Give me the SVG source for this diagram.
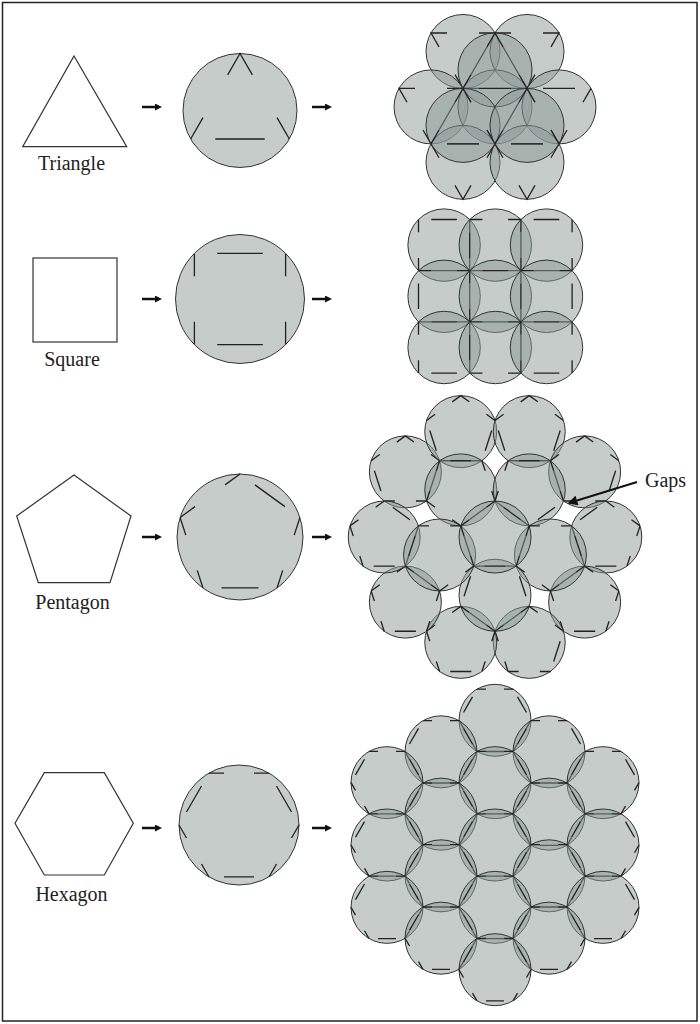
<svg xmlns="http://www.w3.org/2000/svg" xmlns:xlink="http://www.w3.org/1999/xlink" width="700" height="1024" viewBox="0 0 700 1024">
<style>
.c{fill:#8b9996;fill-opacity:.5;stroke:#333;stroke-width:1}
.t{fill:none;stroke:#222;stroke-width:1.3;stroke-dasharray:1 2 1 1 2 1}
.o{fill:#fff;stroke:#333;stroke-width:1.2}
.lb{font-family:"Liberation Serif",serif;font-size:20px;fill:#222}
.ar{stroke:#111;stroke-width:2.5;fill:none}
</style>
<defs>
<marker id="ah" markerUnits="userSpaceOnUse" markerWidth="7" markerHeight="7" viewBox="0 0 10 10" refX="0" refY="5" orient="auto"><path d="M0,0 L10,5 L0,10 Z" fill="#111"/></marker>
<marker id="ah2" markerUnits="userSpaceOnUse" markerWidth="13" markerHeight="10" viewBox="0 0 10 10" refX="0" refY="5" orient="auto"><path d="M0,0 L10,5 L0,10 Z" fill="#111"/></marker>
<path id="tri" class="t" pathLength="12" d="M0,-36.95 L32,18.48 L-32,18.48 Z"/>
<path id="sq" class="t" pathLength="16" d="M25.6,-25.6 L25.6,25.6 L-25.6,25.6 L-25.6,-25.6 Z"/>
<path id="pent" class="t" pathLength="20" d="M-34.24,-11.12 L0,-36 L34.24,-11.12 L21.16,29.12 L-21.16,29.12 Z"/>
<path id="hex" class="t" pathLength="24" d="M-18,-31.18 L18,-31.18 L36,0 L18,31.18 L-18,31.18 L-36,0 Z"/>
</defs>
<rect x="2.5" y="2.5" width="694.5" height="1018.5" fill="#fff" stroke="#222" stroke-width="1.5"/>

<!-- Row 1: triangle -->
<g id="triangle-shape">
<path class="o" d="M74,56 L126.7,146.7 L22.7,146.7 Z"/>
<text class="lb" x="71.5" y="170" text-anchor="middle">Triangle</text>
</g>
<g id="triangle-circle">
<circle class="c" cx="240" cy="110.5" r="57"/>
<path class="t" pathLength="12" d="M240,53.5 L289.36,139 L190.64,139 Z"/>
</g>
<g id="triangle-cluster">
<g id="tc-d1"><circle class="c" cx="463" cy="51.48" r="37"/><use xlink:href="#tri" transform="translate(463,51.48) rotate(-60)"/></g>
<g id="tc-d2"><circle class="c" cx="527" cy="51.48" r="37"/><use xlink:href="#tri" transform="translate(527,51.48) rotate(60)"/></g>
<g id="tc-d3"><circle class="c" cx="431" cy="106.91" r="37"/><use xlink:href="#tri" transform="translate(431,106.91) rotate(-60)"/></g>
<g id="tc-d4"><circle class="c" cx="495" cy="106.91" r="37"/><use xlink:href="#tri" transform="translate(495,106.91) rotate(-60)"/></g>
<g id="tc-d5"><circle class="c" cx="559" cy="106.91" r="37"/><use xlink:href="#tri" transform="translate(559,106.91) rotate(180)"/></g>
<g id="tc-d6"><circle class="c" cx="463" cy="162.34" r="37"/><use xlink:href="#tri" transform="translate(463,162.34) rotate(180)"/></g>
<g id="tc-d7"><circle class="c" cx="527" cy="162.34" r="37"/><use xlink:href="#tri" transform="translate(527,162.34) rotate(180)"/></g>
<g id="tc-u1"><circle class="c" cx="495" cy="69.95" r="37"/><use xlink:href="#tri" transform="translate(495,69.95)"/></g>
<g id="tc-u2"><circle class="c" cx="463" cy="125.38" r="37"/><use xlink:href="#tri" transform="translate(463,125.38)"/></g>
<g id="tc-u3"><circle class="c" cx="527" cy="125.38" r="37"/><use xlink:href="#tri" transform="translate(527,125.38)"/></g>
</g>

<!-- Row 2: square -->
<g id="square-shape">
<rect class="o" x="33" y="258" width="84" height="84"/>
<text class="lb" x="72" y="366" text-anchor="middle">Square</text>
</g>
<g id="square-circle">
<circle class="c" cx="240" cy="299" r="64.5"/>
<path class="t" pathLength="16" d="M285.6,253.4 L285.6,344.6 L194.4,344.6 L194.4,253.4 Z"/>
</g>
<g id="square-cluster">
<g id="sc-11"><circle class="c" cx="444.1" cy="245.1" r="36.2"/><use xlink:href="#sq" transform="translate(444.1,245.1)"/></g>
<g id="sc-12"><circle class="c" cx="495.3" cy="245.1" r="36.2"/><use xlink:href="#sq" transform="translate(495.3,245.1) rotate(90)"/></g>
<g id="sc-13"><circle class="c" cx="546.5" cy="245.1" r="36.2"/><use xlink:href="#sq" transform="translate(546.5,245.1)"/></g>
<g id="sc-21"><circle class="c" cx="444.1" cy="296.3" r="36.2"/><use xlink:href="#sq" transform="translate(444.1,296.3) rotate(90)"/></g>
<g id="sc-22"><circle class="c" cx="495.3" cy="296.3" r="36.2"/><use xlink:href="#sq" transform="translate(495.3,296.3)"/></g>
<g id="sc-23"><circle class="c" cx="546.5" cy="296.3" r="36.2"/><use xlink:href="#sq" transform="translate(546.5,296.3) rotate(90)"/></g>
<g id="sc-31"><circle class="c" cx="444.1" cy="347.5" r="36.2"/><use xlink:href="#sq" transform="translate(444.1,347.5)"/></g>
<g id="sc-32"><circle class="c" cx="495.3" cy="347.5" r="36.2"/><use xlink:href="#sq" transform="translate(495.3,347.5) rotate(90)"/></g>
<g id="sc-33"><circle class="c" cx="546.5" cy="347.5" r="36.2"/><use xlink:href="#sq" transform="translate(546.5,347.5)"/></g>
</g>

<!-- Row 3: pentagon -->
<g id="pentagon-shape">
<path class="o" d="M74,475 L131,516 L110,582.7 L38.3,582.7 L16.7,516 Z"/>
<text class="lb" x="72.5" y="609" text-anchor="middle">Pentagon</text>
</g>
<g id="pentagon-circle">
<circle class="c" cx="240" cy="537" r="63"/>
<path class="t" pathLength="20" d="M180.08,517.53 L240,474 L299.92,517.53 L277.03,587.97 L202.97,587.97 Z"/>
</g>
<g id="pentagon-cluster">
<g id="pc-o1"><circle class="c" cx="405.36" cy="471.88" r="36"/><use xlink:href="#pent" transform="translate(405.36,471.88) rotate(72)"/></g>
<g id="pc-o2"><circle class="c" cx="460.76" cy="431.63" r="36"/><use xlink:href="#pent" transform="translate(460.76,431.63) rotate(72)"/></g>
<g id="pc-o3"><circle class="c" cx="529.24" cy="431.63" r="36"/><use xlink:href="#pent" transform="translate(529.24,431.63) rotate(72)"/></g>
<g id="pc-o4"><circle class="c" cx="584.64" cy="471.88" r="36"/><use xlink:href="#pent" transform="translate(584.64,471.88) rotate(72)"/></g>
<g id="pc-o5"><circle class="c" cx="605.8" cy="537" r="36"/><use xlink:href="#pent" transform="translate(605.8,537) rotate(144)"/></g>
<g id="pc-o6"><circle class="c" cx="584.64" cy="602.12" r="36"/><use xlink:href="#pent" transform="translate(584.64,602.12) rotate(144)"/></g>
<g id="pc-o7"><circle class="c" cx="529.24" cy="642.37" r="36"/><use xlink:href="#pent" transform="translate(529.24,642.37) rotate(288)"/></g>
<g id="pc-o8"><circle class="c" cx="460.76" cy="642.37" r="36"/><use xlink:href="#pent" transform="translate(460.76,642.37)"/></g>
<g id="pc-o9"><circle class="c" cx="405.36" cy="602.12" r="36"/><use xlink:href="#pent" transform="translate(405.36,602.12)"/></g>
<g id="pc-o10"><circle class="c" cx="384.2" cy="537" r="36"/><use xlink:href="#pent" transform="translate(384.2,537)"/></g>
<g id="pc-i1"><circle class="c" cx="460.76" cy="489.88" r="36"/><use xlink:href="#pent" transform="translate(460.76,489.88) rotate(324)"/></g>
<g id="pc-i2"><circle class="c" cx="529.24" cy="489.88" r="36"/><use xlink:href="#pent" transform="translate(529.24,489.88) rotate(324)"/></g>
<g id="pc-i3"><circle class="c" cx="550.4" cy="555" r="36"/><use xlink:href="#pent" transform="translate(550.4,555) rotate(252)"/></g>
<g id="pc-i4"><circle class="c" cx="495" cy="595.25" r="36"/><use xlink:href="#pent" transform="translate(495,595.25) rotate(252)"/></g>
<g id="pc-i5"><circle class="c" cx="439.6" cy="555" r="36"/><use xlink:href="#pent" transform="translate(439.6,555) rotate(252)"/></g>
<g id="pc-c"><circle class="c" cx="495" cy="537" r="36"/><use xlink:href="#pent" transform="translate(495,537)"/></g>
</g>
<g id="gaps-label">
<text class="lb" x="645" y="487">Gaps</text>
</g>

<!-- Row 4: hexagon -->
<g id="hexagon-shape">
<path class="o" d="M44.3,772.7 L104.3,772.7 L133.3,823.3 L104.3,875 L44.3,875 L15,823.3 Z"/>
<text class="lb" x="71.5" y="901" text-anchor="middle">Hexagon</text>
</g>
<g id="hexagon-circle">
<circle class="c" cx="239" cy="825" r="60"/>
<path class="t" pathLength="24" d="M209,773.04 L269,773.04 L299,825 L269,876.96 L209,876.96 L179,825 Z"/>
</g>
<g id="hexagon-cluster">
<g id="hc-1"><circle class="c" cx="495" cy="720.3" r="36"/><use xlink:href="#hex" transform="translate(495,720.3)"/></g>
<g id="hc-2"><circle class="c" cx="441" cy="751.82" r="36"/><use xlink:href="#hex" transform="translate(441,751.82)"/></g>
<g id="hc-3"><circle class="c" cx="549" cy="751.82" r="36"/><use xlink:href="#hex" transform="translate(549,751.82)"/></g>
<g id="hc-4"><circle class="c" cx="387" cy="782.65" r="36"/><use xlink:href="#hex" transform="translate(387,782.65)"/></g>
<g id="hc-5"><circle class="c" cx="495" cy="782.65" r="36"/><use xlink:href="#hex" transform="translate(495,782.65)"/></g>
<g id="hc-6"><circle class="c" cx="603" cy="782.65" r="36"/><use xlink:href="#hex" transform="translate(603,782.65)"/></g>
<g id="hc-7"><circle class="c" cx="441" cy="814.18" r="36"/><use xlink:href="#hex" transform="translate(441,814.18)"/></g>
<g id="hc-8"><circle class="c" cx="549" cy="814.18" r="36"/><use xlink:href="#hex" transform="translate(549,814.18)"/></g>
<g id="hc-9"><circle class="c" cx="387" cy="845" r="36"/><use xlink:href="#hex" transform="translate(387,845)"/></g>
<g id="hc-10"><circle class="c" cx="495" cy="845" r="36"/><use xlink:href="#hex" transform="translate(495,845)"/></g>
<g id="hc-11"><circle class="c" cx="603" cy="845" r="36"/><use xlink:href="#hex" transform="translate(603,845)"/></g>
<g id="hc-12"><circle class="c" cx="441" cy="875.82" r="36"/><use xlink:href="#hex" transform="translate(441,875.82)"/></g>
<g id="hc-13"><circle class="c" cx="549" cy="875.82" r="36"/><use xlink:href="#hex" transform="translate(549,875.82)"/></g>
<g id="hc-14"><circle class="c" cx="387" cy="907.35" r="36"/><use xlink:href="#hex" transform="translate(387,907.35)"/></g>
<g id="hc-15"><circle class="c" cx="495" cy="907.35" r="36"/><use xlink:href="#hex" transform="translate(495,907.35)"/></g>
<g id="hc-16"><circle class="c" cx="603" cy="907.35" r="36"/><use xlink:href="#hex" transform="translate(603,907.35)"/></g>
<g id="hc-17"><circle class="c" cx="441" cy="938.18" r="36"/><use xlink:href="#hex" transform="translate(441,938.18)"/></g>
<g id="hc-18"><circle class="c" cx="549" cy="938.18" r="36"/><use xlink:href="#hex" transform="translate(549,938.18)"/></g>
<g id="hc-19"><circle class="c" cx="495" cy="969.7" r="36"/><use xlink:href="#hex" transform="translate(495,969.7)"/></g>
</g>

<g id="connectors">
<line class="ar" x1="142" y1="107" x2="155" y2="107" marker-end="url(#ah)"/>
<line class="ar" x1="312" y1="107" x2="325" y2="107" marker-end="url(#ah)"/>
<line class="ar" x1="142" y1="299" x2="155" y2="299" marker-end="url(#ah)"/>
<line class="ar" x1="312" y1="299" x2="325" y2="299" marker-end="url(#ah)"/>
<line class="ar" x1="142" y1="537" x2="155" y2="537" marker-end="url(#ah)"/>
<line class="ar" x1="312" y1="537" x2="325" y2="537" marker-end="url(#ah)"/>
<line class="ar" x1="142" y1="828" x2="155" y2="828" marker-end="url(#ah)"/>
<line class="ar" x1="312" y1="828" x2="325" y2="828" marker-end="url(#ah)"/>
<line x1="637" y1="482" x2="577" y2="500.5" stroke="#111" stroke-width="2" marker-end="url(#ah2)"/>
</g>
</svg>
